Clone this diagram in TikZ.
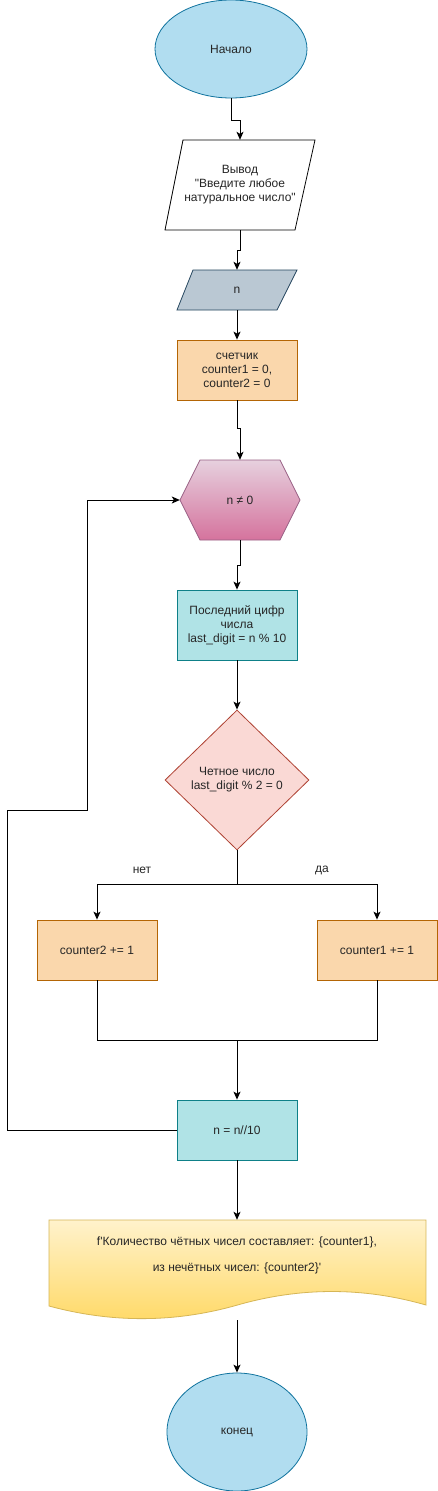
\documentclass[tikz,border=0pt]{standalone}
\usepackage{fontspec}
\setmainfont{Liberation Sans}
\newfontfamily\af{Liberation Sans}
\usetikzlibrary{shapes.geometric,arrows.meta}
\definecolor{ellF}{HTML}{B1DDF0}\definecolor{ellD}{HTML}{10739E}
\definecolor{inF}{HTML}{BAC8D3}\definecolor{inD}{HTML}{23445D}
\definecolor{orF}{HTML}{FAD7AC}\definecolor{orD}{HTML}{B46504}
\definecolor{tqF}{HTML}{B0E3E6}\definecolor{tqD}{HTML}{0E8088}
\definecolor{rdF}{HTML}{FAD9D5}\definecolor{rdD}{HTML}{AE4132}
\definecolor{hxT}{HTML}{E6D0DE}\definecolor{hxB}{HTML}{D5739D}\definecolor{hxD}{HTML}{996185}
\definecolor{dcT}{HTML}{FFF2CC}\definecolor{dcB}{HTML}{FFD966}\definecolor{dcD}{HTML}{D6B656}
\begin{document}
\begin{tikzpicture}[x=1pt,y=-1pt,
  every node/.style={font=\af\fontsize{12}{14}\selectfont, align=center, inner sep=0pt, text=black!85},
  line/.style={draw=black, line width=1pt},
  arr/.style={line, -{Stealth[length=8pt,width=7pt,inset=2pt]}},
  term/.style={ellipse, draw=ellD, fill=ellF, line width=0.8pt},
  orbox/.style={rectangle, draw=orD, fill=orF, line width=0.8pt, minimum width=120pt, minimum height=60pt},
  tqbox/.style={rectangle, draw=tqD, fill=tqF, line width=0.8pt, minimum width=120pt},
  lbl/.style={rectangle, minimum width=0pt}]
\fill[white] (0,0) rectangle (438,1491);
\useasboundingbox (0,0) rectangle (438,1491);

% start
\node[term, minimum width=152pt, minimum height=98pt] (start) at (231,49) {Начало};

% output parallelogram
\draw[black, line width=0.8pt, fill=white] (183,140) -- (315,140) -- (295,230) -- (165,230) -- cycle;
\node[minimum width=150pt, minimum height=90pt] (vyvod) at (240,185) {Вывод\\ "Введите любое\\ натуральное число"};

% input n
\draw[inD, fill=inF, line width=0.8pt] (193,270) -- (297,270) -- (277,310) -- (177,310) -- cycle;
\node[minimum width=120pt, minimum height=40pt] (inp) at (237,290) {n};

% counters
\node[orbox] (cnt) at (237,370) {счетчик\\ counter1 = 0,\\ counter2 = 0};

% hexagon
\draw[hxD, top color=hxT, bottom color=hxB, line width=0.8pt] (180,500) -- (200,460) -- (280,460) -- (300,500) -- (280,540) -- (200,540) -- cycle;
\node[minimum width=120pt, minimum height=80pt] (hex) at (240,500) {n ≠ 0};

% last digit
\node[tqbox, minimum height=70pt] (last) at (237,625) {Последний цифр\\ числа\\ last\_digit = n \% 10};

% diamond
\node[diamond, draw=rdD, fill=rdF, line width=0.8pt, minimum width=144pt, minimum height=140pt, aspect=1] (dia) at (237,780) {Четное число\\ last\_digit \% 2 = 0};

% branches
\node[orbox] (c2) at (97,950) {counter2 += 1};
\node[orbox] (c1) at (377,950) {counter1 += 1};
\node[lbl] (no) at (142,870) {нет};
\node[lbl] (yes) at (322,870) {да};

% n = n//10
\node[tqbox, minimum height=60pt] (upd) at (237,1130) {n = n//10};

% document
\draw[dcD, top color=dcT, bottom color=dcB, line width=0.8pt]
  (49,1220) -- (426,1220) -- (426,1305)
  .. controls (363.3,1287) and (300.5,1287) .. (237.5,1305)
  .. controls (174.5,1323) and (111.7,1323) .. (49,1306) -- cycle;
\node[minimum width=377pt, minimum height=70pt] (doc) at (237,1255)
  {f'Количество чётных чисел составляет: \{counter1\},\\[12pt] из нечётных чисел: \{counter2\}'};
\coordinate (docb) at (237,1320);

% end
\node[term, minimum width=140pt, minimum height=118pt] (fin) at (237,1432) {конец};

% connectors
\draw[arr] (start.south) |- (240,120) -- (vyvod.north);
\draw[arr] (vyvod.south) -- (240,250) -- (237,250) -- (inp.north);
\draw[arr] (inp.south) -- (cnt.north);
\draw[arr] (cnt.south) -- (237,428) -- (240,428) -- (hex.north);
\draw[arr] (hex.south) -- (240,565) -- (237,565) -- (last.north);
\draw[arr] (last.south) -- (dia.north);
\coordinate (br) at (237,884);
\draw[line] (dia.south) -- (br);
\draw[arr] (br) -| (c2.north);
\draw[arr] (br) -| (c1.north);
\coordinate (mg) at (237,1040);
\draw[line] (c2.south) |- (mg) -| (c1.south);
\draw[arr] (mg) -- (upd.north);
\draw[arr] (upd.west) -- (7,1130) -- (7,810) -- (87,810) -- (87,500) -- (hex.west);
\draw[arr] (upd.south) -- (doc.north);
\draw[arr] (docb) -- (fin.north);
\end{tikzpicture}
\end{document}
